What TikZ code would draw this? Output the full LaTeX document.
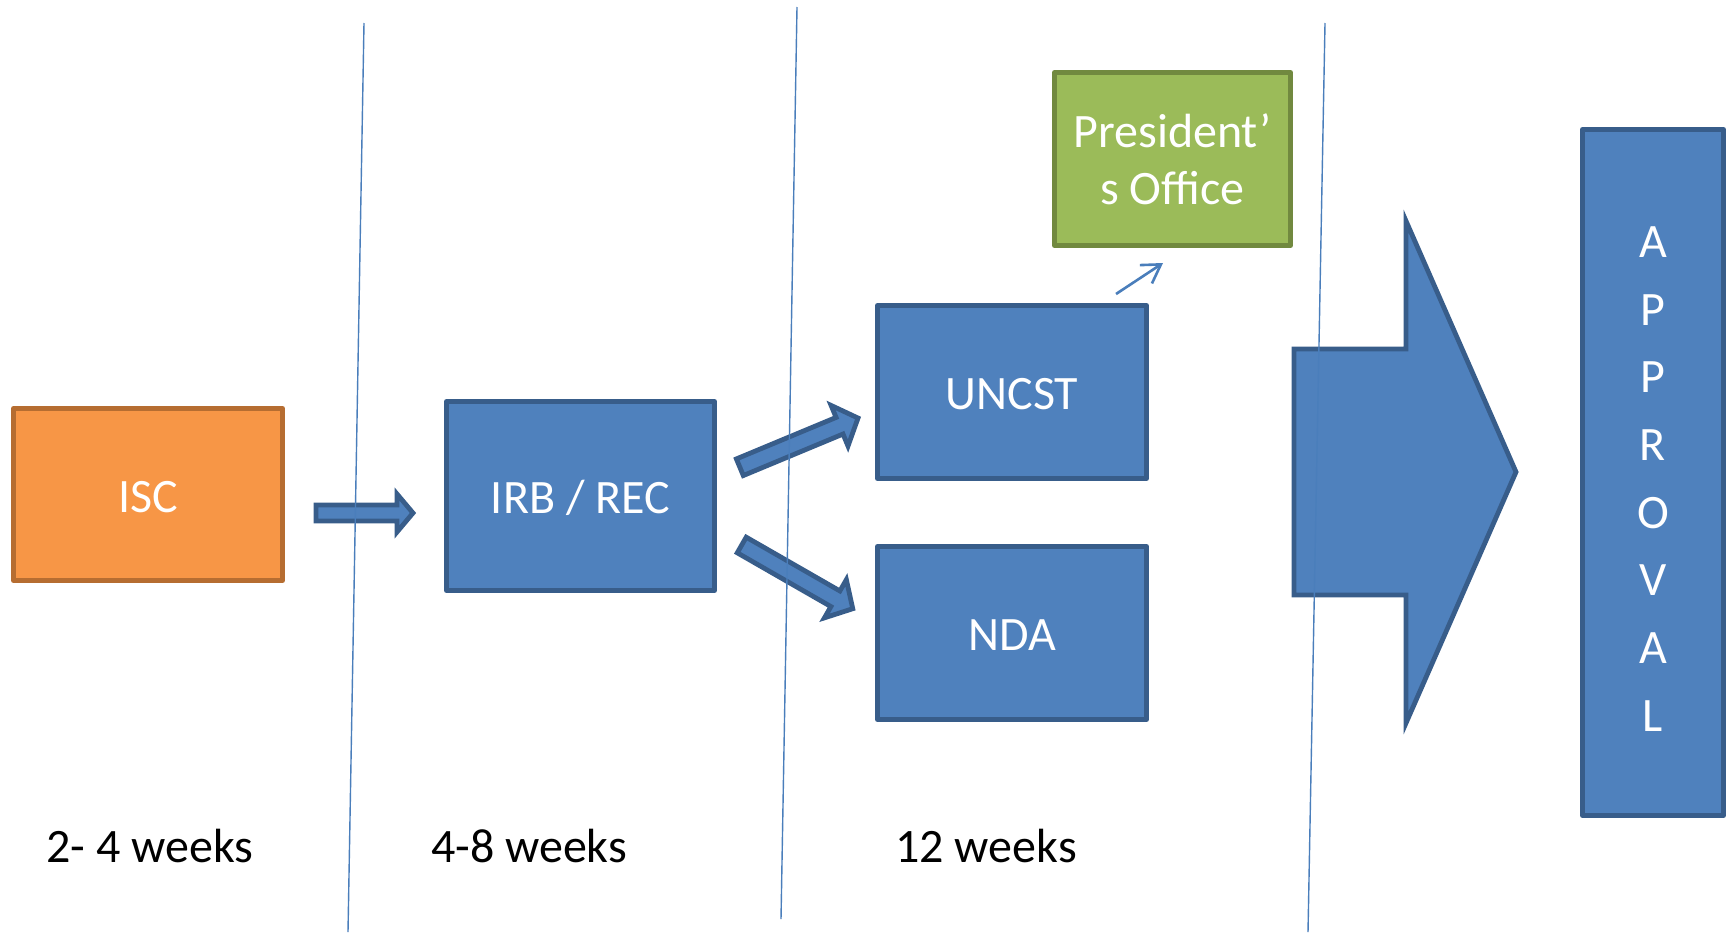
\documentclass[tikz,border=0pt]{standalone}
\usepackage{fontspec}
\setmainfont{Carlito}
\usetikzlibrary{arrows.meta}
\definecolor{bfill}{HTML}{4F81BD}
\definecolor{bline}{HTML}{385D8A}
\definecolor{ofill}{HTML}{F79646}
\definecolor{oline}{HTML}{B66D31}
\definecolor{gfill}{HTML}{9BBB59}
\definecolor{gline}{HTML}{71893F}
\definecolor{divline}{HTML}{4A7EBB}
\begin{document}
\begin{tikzpicture}[x=0.5pt,y=-0.5pt,
  box/.style={draw, line width=2.4pt, inner sep=0pt, text=white, align=center,
    font=\fontsize{24}{28.5}\selectfont, line join=round},
  oneline/.style={text height=17.5pt, text depth=0pt},
  bluebox/.style={box, fill=bfill, draw=bline},
  orangebox/.style={box, fill=ofill, draw=oline},
  greenbox/.style={box, fill=gfill, draw=gline},
  blockarr/.style={fill=bfill, draw=bline, line width=2.4pt, line join=miter},
  divider/.style={draw=divline, line width=0.7pt},
  thinarr/.style={draw=divline, line width=1.3pt, -{Straight Barb[length=9pt,width=11pt,line width=1.3pt]}},
  weeks/.style={font=\fontsize{24}{28.5}\selectfont, anchor=base}]
\useasboundingbox (0,0) rectangle (1728,932);

% boxes
\node[orangebox, oneline, minimum width=134.6pt, minimum height=86.1pt] (isc) at (148,494.5) {ISC};
\node[bluebox, oneline, minimum width=134.1pt, minimum height=94.6pt] (irb) at (580.5,496) {IRB / REC};
\node[bluebox, oneline, minimum width=134.6pt, minimum height=86.6pt] (uncst) at (1012,392) {UNCST};
\node[bluebox, oneline, minimum width=134.6pt, minimum height=86.6pt] (nda) at (1012,633) {NDA};
\node[greenbox, minimum width=118.1pt, minimum height=86.6pt] (pres) at (1172.5,159) {President’\\s Office};
\node[bluebox, minimum width=70.6pt, minimum height=343.1pt] (approval) at (1653,472.5) {};
\node[text=white, align=center, inner sep=0pt, font=\fontsize{24}{33.85}\selectfont] (apptext) at (1653,479) {A\\P\\P\\R\\O\\V\\A\\L};

% block arrows
\begin{scope}[shift={(316,513)}]
  \draw[blockarr] (0,-8) -- (81,-8) -- (81,-19) -- (97,0) -- (81,19) -- (81,8) -- (0,8) -- cycle;
\end{scope}
\begin{scope}[shift={(738,468)}, rotate=22.6]
  \draw[blockarr] (2,-9) -- (110,-9) -- (110,-22) -- (130,0) -- (110,22) -- (110,9) -- (2,9) -- cycle;
\end{scope}
\begin{scope}[shift={(740,544)}, rotate=-29.85]
  \draw[blockarr] (2,-9) -- (110,-9) -- (110,-22) -- (130,0) -- (110,22) -- (110,9) -- (2,9) -- cycle;
\end{scope}
% big arrow
\draw[blockarr] (1294,349) -- (1406,349) -- (1406,221) -- (1516,472) -- (1406,723) -- (1406,595) -- (1294,595) -- cycle;

% small arrow to president's office
\coordinate (pa) at (1116,294);
\coordinate (pb) at (1163,263);
\draw[thinarr] (pa) -- (pb);

% dividers
\draw[divider] (364,23) -- (348,932);
\draw[divider] (797,7) -- (781,919);
\draw[divider] (1325,23) -- (1308,932);

% week labels
\node[weeks] (w1) at (150,862) {2- 4 weeks};
\node[weeks] (w2) at (529,862) {4-8 weeks};
\node[weeks] (w3) at (986,862) {12 weeks};
\end{tikzpicture}
\end{document}
